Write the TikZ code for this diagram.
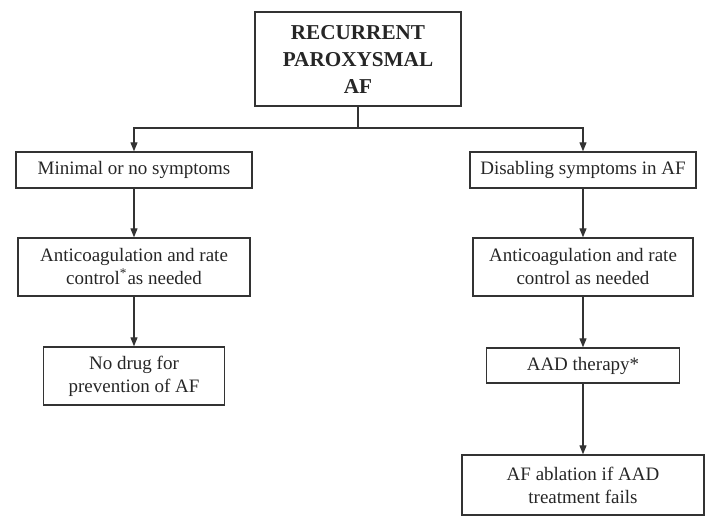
\documentclass[tikz,border=0pt]{standalone}
\usepackage{fontspec}
\setmainfont{Liberation Serif}
\usetikzlibrary{positioning}
\usetikzlibrary{arrows.meta}
\tikzset{every box/.style={draw=black!80, line width=0.7pt, text=black!85,
  align=center, inner sep=0pt, font=\fontsize{9.5}{11.5}\selectfont}}
\tikzset{title box/.style={every box, font=\fontsize{10.6}{13.5}\selectfont\bfseries}}
\tikzset{flow/.style={draw=black!80, line width=0.6pt,
  -{Triangle[length=4.5pt,width=3.5pt]}}}

\begin{document}
\begin{tikzpicture}[x=0.5pt,y=-0.5pt]
  \useasboundingbox (0,0) rectangle (720,530);
  % top of the tree
  \node[title box, minimum width=103pt, minimum height=47pt] (recurrent) at (358,59)
    {RECURRENT\\PAROXYSMAL\\AF};
  % left branch
  \node[every box, minimum width=118pt, minimum height=18pt] (minimal) at (134,170)
    {Minimal or no symptoms};
  \node[every box, minimum width=116pt, minimum height=29pt] (rateleft) at (134,267)
    {Anticoagulation and rate\\control\textsuperscript{*}as needed};
  \node[every box, minimum width=90.5pt, minimum height=29pt] (nodrug) at (134,376)
    {No drug for\\prevention of AF};
  % right branch
  \node[every box, minimum width=113pt, minimum height=18pt] (disabling) at (583,170)
    {Disabling symptoms in AF};
  \node[every box, minimum width=110pt, minimum height=29pt] (rateright) at (583,267)
    {Anticoagulation and rate\\control as needed};
  \node[every box, minimum width=96.5pt, minimum height=17.5pt] (aad) at (583,365.5)
    {AAD therapy*};
  \node[every box, minimum width=121pt, minimum height=30pt] (ablation) at (583,485)
    {AF ablation if AAD\\treatment fails};
  % connectors
  \draw[draw=black!80, line width=0.6pt] (recurrent.south) -- (358,128) coordinate (split);
  \draw[flow] (split) -| (minimal.north);
  \draw[flow] (split) -| (disabling.north);
  \draw[flow] (minimal) -- (rateleft);
  \draw[flow] (rateleft) -- (nodrug);
  \draw[flow] (disabling) -- (rateright);
  \draw[flow] (rateright) -- (aad);
  \draw[flow] (aad) -- (ablation);
\end{tikzpicture}
\end{document}
